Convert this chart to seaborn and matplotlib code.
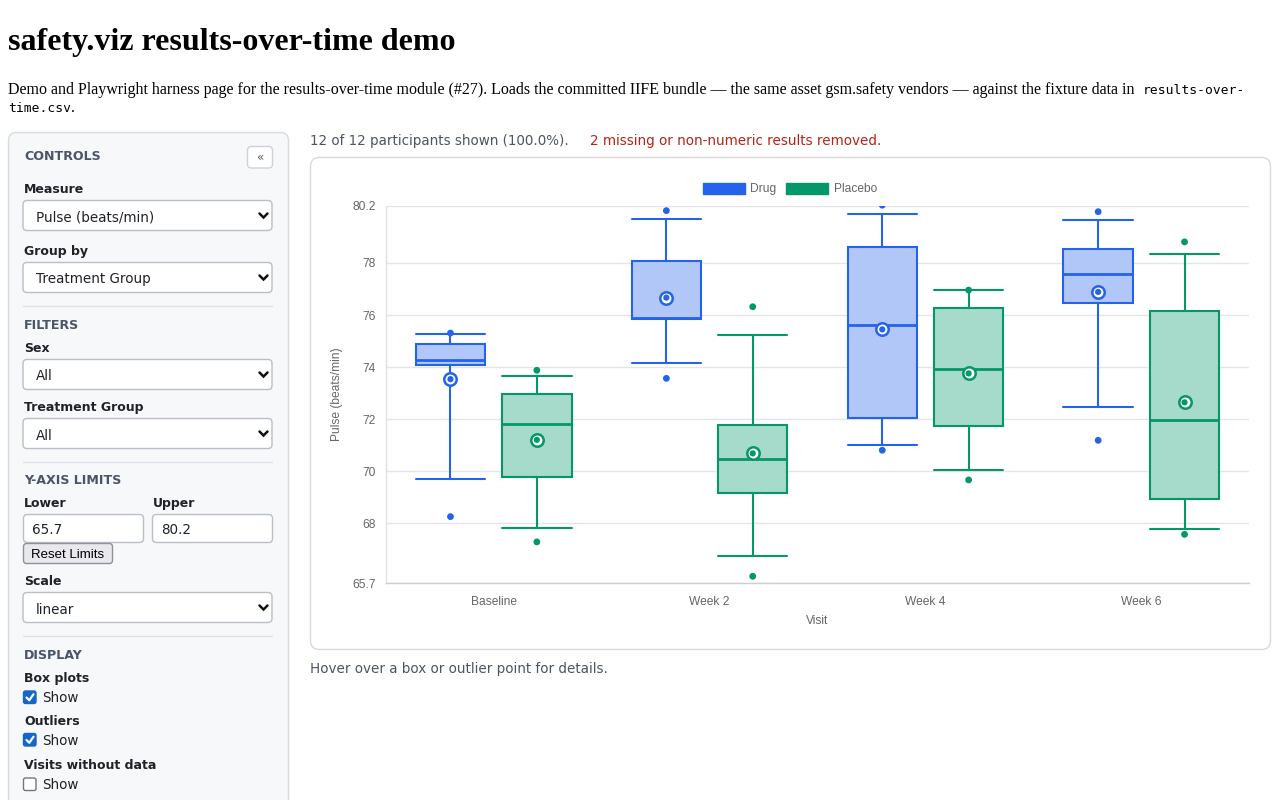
import matplotlib
matplotlib.use('Agg')
import matplotlib.pyplot as plt
from matplotlib.patches import FancyBboxPatch, Patch
import seaborn as sns
import numpy as np
import pandas as pd

# ---- data ----
visits = ['Baseline', 'Week 2', 'Week 4', 'Week 6']
groups = ['Drug', 'Placebo']

drug_whislo = [69.70, 74.15, 71.00, 72.46]
drug_q1 = [74.09, 75.84, 72.05, 76.47]
drug_med = [74.27, 75.88, 75.61, 77.59]
drug_q3 = [74.89, 78.06, 78.63, 78.53]
drug_whishi = [75.27, 79.69, 79.89, 79.65]
drug_mean = [73.54, 76.67, 75.45, 76.89]
drug_outliers = [[68.26, 75.31], [73.57, 80.01], [70.81, 80.22], [71.19, 79.97]]

placebo_whislo = [67.83, 66.74, 70.04, 67.80]
placebo_q1 = [69.79, 69.18, 71.73, 68.92]
placebo_med = [71.83, 70.46, 73.93, 71.98]
placebo_q3 = [72.98, 71.78, 76.27, 76.17]
placebo_whishi = [73.66, 75.22, 76.95, 78.36]
placebo_mean = [71.21, 70.69, 73.76, 72.65]
placebo_outliers = [[67.29, 73.88], [65.97, 76.32], [69.67, 76.96], [67.58, 78.81]]

y_ticks = [65.7, 68, 70, 72, 74, 76, 78, 80.2]
y_tick_labels = ['65.7', '68', '70', '72', '74', '76', '78', '80.2']
y_lower, y_upper = 65.7, 80.2

series = {
    'Drug': dict(whislo=drug_whislo, q1=drug_q1, med=drug_med, q3=drug_q3,
                 whishi=drug_whishi, mean=drug_mean, out=drug_outliers),
    'Placebo': dict(whislo=placebo_whislo, q1=placebo_q1, med=placebo_med, q3=placebo_q3,
                    whishi=placebo_whishi, mean=placebo_mean, out=placebo_outliers),
}
colors = {'Drug': '#2563eb', 'Placebo': '#059669'}
fills = {'Drug': '#b1c7f8', 'Placebo': '#a6dacb'}
offsets = {'Drug': -0.2, 'Placebo': 0.2}
box_w = 0.322

sns.set_theme(style='white')
plt.rcParams['font.family'] = ['DejaVu Sans']

PT = 0.72  # px -> pt at 100 dpi

fig = plt.figure(figsize=(12.8, 8), dpi=100)
bg = fig.add_axes([0, 0, 1, 1])
bg.set_xlim(0, 1280)
bg.set_ylim(800, 0)
bg.axis('off')


def txt(x, y, s, px, **kw):
    kw.setdefault('va', 'baseline')
    bg.text(x, y, s, fontsize=px * PT, **kw)


def rbox(x, y, w, h, r, fc, ec, lw=1.0, z=1):
    bg.add_patch(FancyBboxPatch((x, y), w, h, boxstyle=f'round,pad=0,rounding_size={r}',
                                fc=fc, ec=ec, lw=lw, zorder=z))


def select(y0, label):
    rbox(23, y0, 249, 30, 4, 'white', '#b9bfc7')
    txt(35.5, y0 + 21, label, 13.5, color='#1f2328')
    yc = y0 + 15
    bg.plot([259.5, 263.5, 267.5], [yc - 2, yc + 2, yc - 2], color='#111111', lw=1.8,
            solid_capstyle='round', solid_joinstyle='miter')


def label(y, s):
    txt(24, y + 4.7, s, 12.5, color='#1f2328', fontweight='bold')


def section(y, s):
    txt(24, y + 4.5, s, 12.6, color='#4a5568', fontweight='bold')


def sep(y):
    bg.plot([23, 272], [y, y], color='#dde2e8', lw=1)


def checkbox(y0, checked):
    if checked:
        rbox(23.5, y0, 12.5, 12.5, 2, '#1566c8', '#1566c8')
        bg.plot([26.5, 29.3, 33.5], [y0 + 6.5, y0 + 9.3, y0 + 3.2], color='white', lw=1.6, zorder=2)
    else:
        rbox(23.5, y0, 12.5, 12.5, 2, 'white', '#767676')
    txt(42.5, y0 + 11.3, 'Show', 13.5, color='#1f2328')


# ---- page header ----
txt(8, 50, 'safety.viz results-over-time demo', 32, family='Liberation Serif',
    fontweight='bold', color='black')
txt(8, 94, 'Demo and Playwright harness page for the results-over-time module (#27). '
    'Loads the committed IIFE bundle \u2014 the same asset gsm.safety vendors \u2014 '
    'against the fixture data in', 16, family='Liberation Serif', color='black')
txt(1143, 94, 'results-over-', 13, family='DejaVu Sans Mono', color='black')
txt(8, 112, 'time.csv', 13, family='DejaVu Sans Mono', color='black')
txt(70.5, 112, '.', 16, family='Liberation Serif', color='black')

# ---- sidebar ----
rbox(8.5, 132.5, 280, 700, 8, '#f6f8fa', '#d5dbe2', z=0)
section(156, 'CONTROLS')
rbox(247.5, 146.5, 25, 21.5, 4, 'white', '#cdd2d8')
txt(260, 157, '\u00ab', 12, color='#555555', ha='center', va='center')
label(188.3, 'Measure')
select(200.5, 'Pulse (beats/min)')
label(250, 'Group by')
select(262.5, 'Treatment Group')
sep(306)
section(324.3, 'FILTERS')
label(347.3, 'Sex')
select(359.5, 'All')
label(406.3, 'Treatment Group')
select(418.5, 'All')
sep(462.3)
section(480, 'Y-AXIS LIMITS')
label(502.7, 'Lower')
txt(153, 502.7 + 4.7, 'Upper', 12.5, color='#1f2328', fontweight='bold')
rbox(23.5, 514.5, 120, 28, 4, 'white', '#b9bfc7')
rbox(152.5, 514.5, 120, 28, 4, 'white', '#b9bfc7')
txt(31.7, 534, '65.7', 13.5, color='#1f2328')
txt(160.7, 534, '80.2', 13.5, color='#1f2328')
rbox(23.5, 543.5, 89, 20, 3, '#e9e9ed', '#8f8f9d')
txt(68, 558, 'Reset Limits', 13.3, family='Liberation Sans', color='black', ha='center')
label(580.7, 'Scale')
select(592.5, 'linear')
sep(636)
section(654.3, 'DISPLAY')
label(677.3, 'Box plots')
checkbox(691, True)
label(720.3, 'Outliers')
checkbox(733.5, True)
label(764.3, 'Visits without data')
checkbox(778, False)

# ---- status text ----
txt(310, 145.5, '12 of 12 participants shown (100.0%).', 13.5, color='#4b5563')
txt(590, 145.5, '2 missing or non-numeric results removed.', 13.5, color='#b42318')
txt(310, 673, 'Hover over a box or outlier point for details.', 13.5, color='#4b5563')

# chart card
rbox(310.5, 157.5, 960, 492, 9, 'white', '#d9d9d9')

# ---- chart ----
ax = fig.add_axes([385.7 / 1280, 1 - 583.3 / 800, 863.6 / 1280, 377.6 / 800])
ax.set_facecolor('none')
pos = np.arange(len(visits))

for g in groups:
    d = series[g]
    c = colors[g]
    stats = [dict(whislo=d['whislo'][i], q1=d['q1'][i], med=d['med'][i], q3=d['q3'][i],
                  whishi=d['whishi'][i], fliers=[]) for i in range(len(visits))]
    ax.bxp(stats, positions=pos + offsets[g], widths=box_w, capwidths=box_w,
           patch_artist=True, showfliers=False, manage_ticks=False,
           boxprops=dict(facecolor=fills[g], edgecolor=c, linewidth=1.5),
           whiskerprops=dict(color=c, linewidth=1.5),
           capprops=dict(color=c, linewidth=1.5),
           medianprops=dict(color=c, linewidth=2.0))

rows = []
for g in groups:
    for i, vals in enumerate(series[g]['out']):
        for v in vals:
            rows.append({'x': i + offsets[g], 'value': v, 'group': g})
out_df = pd.DataFrame(rows)
sns.scatterplot(data=out_df, x='x', y='value', hue='group', palette=colors, s=24,
                linewidth=0, legend=False, ax=ax, zorder=4)

mean_df = pd.DataFrame({
    'x': np.concatenate([pos + offsets[g] for g in groups]),
    'value': np.concatenate([series[g]['mean'] for g in groups]),
    'group': np.repeat(groups, len(visits)),
})
for g in groups:
    sub = mean_df[mean_df['group'] == g]
    ax.scatter(sub['x'], sub['value'], s=80, facecolors='white', edgecolors=colors[g],
               linewidths=1.8, zorder=5)
sns.scatterplot(data=mean_df, x='x', y='value', hue='group', palette=colors, s=20,
                linewidth=0, legend=False, ax=ax, zorder=6)

ax.set_xlim(-0.5, len(visits) - 0.5)
ax.set_ylim(y_lower, y_upper)
ax.set_xticks(pos)
ax.set_xticklabels(visits)
ax.set_yticks(y_ticks)
ax.set_yticklabels(y_tick_labels)
ax.set_xlabel('')
ax.set_ylabel('')
ax.yaxis.grid(True, color='#e5e5e5', lw=1)
ax.xaxis.grid(False)
ax.set_axisbelow(True)
for s in ['top', 'right']:
    ax.spines[s].set_visible(False)
ax.spines['left'].set_color('#e2e2e2')
ax.spines['bottom'].set_color('#cfcfcf')
ax.spines['left'].set_linewidth(1)
ax.spines['bottom'].set_linewidth(1)
ax.tick_params(axis='y', length=5, width=1, color='#e5e5e5', pad=2,
               labelsize=12 * PT, labelcolor='#666666')
ax.tick_params(axis='x', length=0, pad=9, labelsize=12 * PT, labelcolor='#666666')
for lbl in ax.get_xticklabels() + ax.get_yticklabels():
    lbl.set_fontfamily('Liberation Sans')

ax.text(-0.0564, 0.5, 'Pulse (beats/min)', transform=ax.transAxes, rotation=90,
        ha='center', va='center', fontsize=12 * PT, color='#666666', family='Liberation Sans')
ax.text(0.5, -0.0998, 'Visit', transform=ax.transAxes, ha='center', va='center',
        fontsize=12 * PT, color='#666666', family='Liberation Sans')

handles = [Patch(facecolor=colors[g], edgecolor=colors[g], label=g) for g in groups]
leg = ax.legend(handles=handles, loc='center', bbox_to_anchor=(0.468, 1.0442), ncol=2,
                frameon=False, handlelength=3.5, handleheight=1.0, handletextpad=0.45,
                columnspacing=0.8, borderaxespad=0,
                prop={'family': 'Liberation Sans', 'size': 12 * PT})
for t in leg.get_texts():
    t.set_color('#666666')

fig.savefig('out.png', dpi=100)
